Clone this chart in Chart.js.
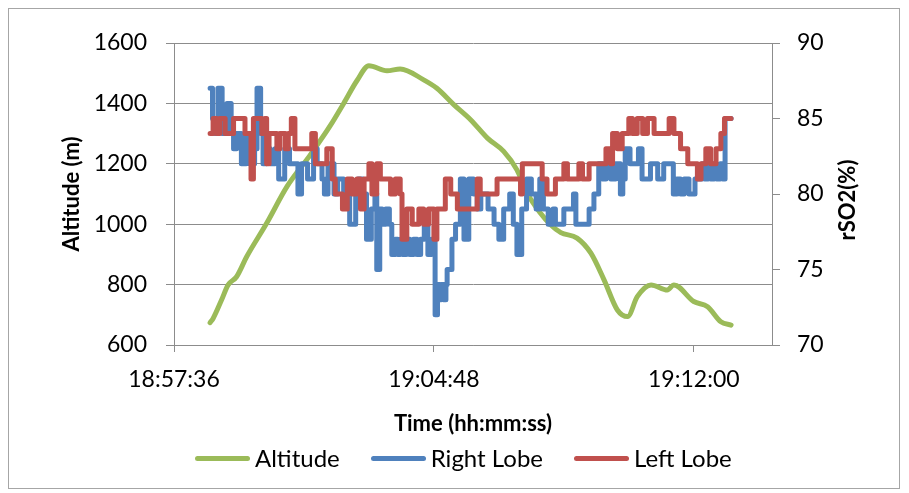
<!DOCTYPE html>
<html>
<head>
<meta charset="utf-8">
<script src="https://cdn.jsdelivr.net/npm/chart.js@4.4.0/dist/chart.umd.min.js"></script>
<style>
  html, body { margin: 0; padding: 0; background: #fff; }
  #wrap { position: relative; width: 909px; height: 493px; font-family: Lato, "Open Sans", sans-serif; }
  #frame { position: absolute; left: 8px; top: 8px; width: 892px; height: 481px; border: 1px solid #a6a6a6; box-sizing: border-box; }
  #chart { position: absolute; left: 0; top: 0; }
  #legend { position: absolute; left: 195px; top: 444px; display: flex; gap: 31px; font-size: 24px; line-height: 28px; color: #000; }
  #legend .item { display: flex; align-items: center; }
  #legend .mark { width: 55px; height: 5px; border-radius: 3px; margin-right: 5px; }
</style>
</head>
<body>
<div id="wrap">
  <div id="frame"></div>
  <canvas id="chart" width="909" height="493"></canvas>
  <div id="legend"></div>
</div>
<script>
// altitude (m), primary axis
const altTimes = ['18:58:36','18:58:41','18:58:55','18:59:06','18:59:20','18:59:37','19:00:10','19:00:44',
  '19:01:22','19:01:56','19:02:18','19:02:40','19:03:00','19:03:30','19:03:52','19:04:31','19:04:53',
  '19:05:21','19:05:49','19:06:17','19:06:44','19:07:06','19:07:23','19:07:45','19:08:02','19:08:19',
  '19:08:46','19:09:09','19:09:31','19:09:53','19:10:10','19:10:26','19:10:49','19:11:16','19:11:27',
  '19:12:00','19:12:23','19:12:45','19:13:02'];
const altValues = [674, 688, 749, 799, 826, 893, 1003, 1125,
  1228, 1327, 1400, 1475, 1525, 1508, 1514, 1478, 1450,
  1396, 1346, 1285, 1241, 1180, 1103, 1037, 998, 972,
  954, 904, 815, 716, 694, 760, 799, 782, 799,
  744, 727, 677, 666];

// rSO2 right lobe (%), value holds from each time until the next
const rightTimes = ['18:58:36','18:58:40','18:58:44','18:58:49','18:58:56','18:59:04','18:59:11','18:59:15',
  '18:59:20','18:59:28','18:59:36','18:59:42','18:59:50','18:59:54','19:00:00','19:00:04','19:00:10',
  '19:00:16','19:00:24','19:00:30','19:00:40','19:00:48','19:01:02','19:01:08','19:01:18','19:01:28',
  '19:01:34','19:01:42','19:01:46','19:01:52','19:02:02','19:02:08','19:02:18','19:02:28','19:02:38',
  '19:02:42','19:02:50','19:02:56','19:03:04','19:03:10','19:03:13','19:03:18','19:03:22','19:03:28',
  '19:03:34','19:03:38','19:03:44','19:03:48','19:03:52','19:03:56','19:04:02','19:04:08','19:04:14',
  '19:04:20','19:04:26','19:04:32','19:04:38','19:04:44','19:04:50','19:04:54','19:04:56','19:05:00',
  '19:05:04','19:05:08','19:05:10','19:05:18','19:05:24','19:05:32','19:05:38','19:05:46','19:05:54',
  '19:06:00','19:06:06','19:06:18','19:06:28','19:06:36','19:06:44','19:06:54','19:07:00','19:07:06',
  '19:07:14','19:07:22','19:07:30','19:07:38','19:07:44','19:07:50','19:07:58','19:08:06','19:08:10',
  '19:08:24','19:08:40','19:08:44','19:09:06','19:09:14','19:09:22','19:09:28','19:09:34','19:09:42',
  '19:09:50','19:09:58','19:10:02','19:10:06','19:10:14','19:10:28','19:10:34','19:10:48','19:11:00',
  '19:11:10','19:11:26','19:11:32','19:11:38','19:11:44','19:11:52','19:12:02','19:12:14','19:12:18',
  '19:12:24','19:12:28','19:12:34','19:12:38','19:12:44','19:12:48','19:12:52','19:13:02'];
const rightValues = [87, 85, 84, 87, 84, 86, 84, 83,
  84, 82, 84, 82, 83, 87, 84, 82, 83,
  82, 83, 81, 83, 82, 80, 82, 81, 83,
  82, 81, 80, 82, 80, 81, 80, 78, 80,
  81, 80, 77, 79, 80, 75, 79, 78, 79,
  78, 76, 77, 76, 77, 76, 77, 76, 77,
  76, 77, 78, 76, 77, 72, 74, 73, 74,
  73, 74, 75, 77, 78, 81, 77, 81, 80,
  79, 80, 79, 78, 77, 79, 80, 78, 76,
  79, 81, 80, 79, 81, 79, 78, 79, 78,
  79, 80, 78, 79, 80, 82, 81, 82, 81,
  82, 80, 81, 83, 82, 83, 81, 82, 81,
  82, 80, 81, 80, 81, 80, 81, 82, 81,
  82, 81, 82, 81, 82, 81, 85, 85];

// rSO2 left lobe (%)
const leftTimes = ['18:58:36','18:58:41','18:58:47','18:58:52','18:59:01','18:59:15','18:59:34','18:59:44',
  '18:59:48','19:00:02','19:00:07','19:00:10','19:00:14','19:00:27','19:00:32','19:00:41','19:00:46',
  '19:00:51','19:00:57','19:01:25','19:01:31','19:01:50','19:01:59','19:02:04','19:02:16','19:02:24',
  '19:02:32','19:02:40','19:02:46','19:02:52','19:03:00','19:03:05','19:03:13','19:03:19','19:03:36',
  '19:03:44','19:03:52','19:03:55','19:04:03','19:04:12','19:04:23','19:04:31','19:04:39','19:04:48',
  '19:04:53','19:05:07','19:05:16','19:05:27','19:06:00','19:06:05','19:06:33','19:07:12','19:07:15',
  '19:07:48','19:07:56','19:08:10','19:08:24','19:08:30','19:08:49','19:08:55','19:09:06','19:09:34',
  '19:09:42','19:09:45','19:09:53','19:10:01','19:10:12','19:10:18','19:10:26','19:10:35','19:10:43',
  '19:10:54','19:11:19','19:11:27','19:11:38','19:11:50','19:12:06','19:12:12','19:12:20','19:12:28',
  '19:12:37','19:12:45','19:12:51','19:13:02'];
const leftValues = [84, 85, 84, 85, 84, 85, 84, 81,
  85, 84, 85, 82, 84, 83, 84, 83, 84,
  85, 83, 84, 82, 83, 81, 80, 79, 81,
  80, 81, 79, 81, 82, 80, 82, 81, 80,
  81, 80, 77, 79, 78, 79, 78, 79, 77,
  79, 81, 80, 79, 81, 80, 81, 80, 82,
  81, 80, 81, 82, 81, 82, 81, 82, 83,
  82, 84, 83, 84, 85, 84, 85, 84, 85,
  84, 85, 84, 83, 82, 81, 82, 83, 82,
  83, 84, 85, 85];

const xTicks = ['18:57:36', '19:04:48', '19:12:00'];
const xRange = ['18:57:36', '19:14:10'];
const altTicks = [600, 800, 1000, 1200, 1400, 1600];
const rso2Ticks = [70, 75, 80, 85, 90];

const toSec = s => {
    const [h, m, sec] = s.split(':').map(Number);
    return h * 3600 + m * 60 + sec;
};
const fmt = v => {
    const h = Math.floor(v / 3600), m = Math.floor((v % 3600) / 60), s = Math.round(v % 60);
    return [h, m, s].map(n => String(n).padStart(2, '0')).join(':');
};
const pts = (times, vals) => times.map((t, i) => ({ x: toSec(t), y: vals[i] }));

const FONT = 'Lato, "Open Sans", sans-serif';
const gridColor = '#8c8c8c';
const green = '#9BBB59', blue = '#4F81BD', red = '#C0504D';

// excel puts the secondary title reading bottom-to-top
const rightTitle = {
    id: 'rightTitle',
    afterDraw(chart) {
        const { ctx, chartArea } = chart;
        ctx.save();
        ctx.translate(848, (chartArea.top + chartArea.bottom) / 2 + 6);
        ctx.rotate(-Math.PI / 2);
        ctx.font = 'bold 22px ' + FONT;
        ctx.fillStyle = '#000';
        ctx.textAlign = 'center';
        ctx.textBaseline = 'middle';
        ctx.fillText('rSO2(%)', 0, 0);
        ctx.restore();
    }
};

const lineStyle = color => ({
    borderColor: color, backgroundColor: color, borderWidth: 5,
    pointRadius: 0, borderCapStyle: 'round', borderJoinStyle: 'round'
});

const chart = new Chart(document.getElementById('chart'), {
    type: 'line',
    data: {
        datasets: [
            { label: 'Altitude', data: pts(altTimes, altValues), yAxisID: 'y',
              cubicInterpolationMode: 'monotone', order: 2, ...lineStyle(green) },
            { label: 'Right Lobe', data: pts(rightTimes, rightValues), yAxisID: 'y1',
              stepped: true, order: 1, ...lineStyle(blue) },
            { label: 'Left Lobe', data: pts(leftTimes, leftValues), yAxisID: 'y1',
              stepped: true, order: 0, ...lineStyle(red) },
        ],
    },
    options: {
        responsive: false,
        animation: false,
        events: [],
        layout: { padding: { top: 43, bottom: 56, left: 18, right: 0 } },
        plugins: {
            tooltip: { enabled: false },
            legend: { display: false },
        },
        scales: {
            x: {
                type: 'linear',
                min: toSec(xRange[0]), max: toSec(xRange[1]),
                afterBuildTicks: s => { s.ticks = xTicks.map(t => ({ value: toSec(t) })); },
                afterFit: s => { s.height = 92; },
                ticks: { callback: v => fmt(v), color: '#000', font: { family: FONT, size: 23 },
                         padding: 14, maxRotation: 0, autoSkip: false },
                grid: { drawOnChartArea: false, tickLength: 7, color: gridColor },
                border: { color: gridColor },
                title: { display: true, text: 'Time (hh:mm:ss)', color: '#000',
                         font: { family: FONT, size: 22, weight: 'bold' }, padding: { top: 3, bottom: 0 } },
            },
            y: {
                position: 'left',
                min: altTicks[0], max: altTicks[altTicks.length - 1],
                afterFit: s => { s.width = 156; },
                ticks: { stepSize: altTicks[1] - altTicks[0], callback: v => String(v), color: '#000',
                         font: { family: FONT, size: 23 }, padding: 19 },
                grid: { color: gridColor, tickLength: 8 },
                border: { color: gridColor },
                title: { display: true, text: 'Altitude (m)', color: '#000',
                         font: { family: FONT, size: 22, weight: 'bold' }, padding: { top: 41, bottom: 0 } },
            },
            y1: {
                position: 'right',
                min: rso2Ticks[0], max: rso2Ticks[rso2Ticks.length - 1],
                afterFit: s => { s.width = 137; },
                ticks: { stepSize: rso2Ticks[1] - rso2Ticks[0], color: '#000',
                         font: { family: FONT, size: 23 }, padding: 17 },
                grid: { drawOnChartArea: false, tickLength: 8, color: gridColor },
                border: { color: gridColor },
            },
        },
    },
    plugins: [rightTitle],
});

// legend in the excel style: short thick line, then the name
document.getElementById('legend').innerHTML = chart.data.datasets.map(d => `
    <div class="item"><span class="mark" style="background:${d.borderColor}"></span>${d.label}</div>
`).join('');
</script>
</body>
</html>
